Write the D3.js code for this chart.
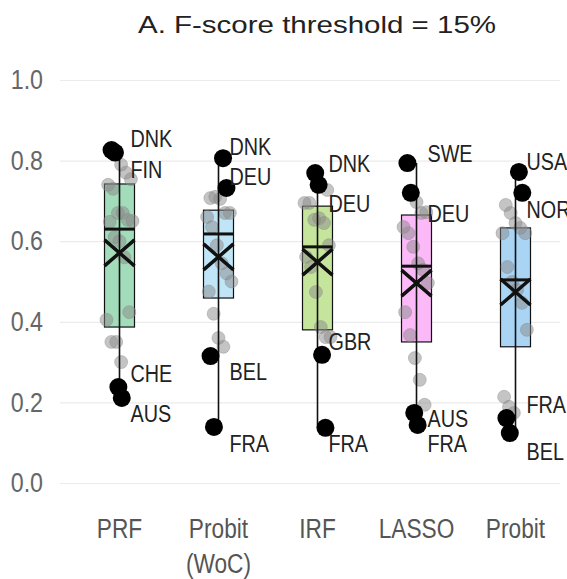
<!DOCTYPE html>
<html>
<head>
<meta charset="utf-8">
<script src="https://cdn.jsdelivr.net/npm/d3@7"></script>
<style>
  body { margin: 0; background: #fff; }
  .narrow { font-family: "Liberation Sans", Arial, sans-serif; }
</style>
</head>
<body>
<div id="chart"></div>
<script>
// box plot of F-scores by method, threshold 15%

const methods = ["PRF", "Probit (WoC)", "IRF", "LASSO", "Probit"];
const boxFills = ["#a2dcba", "#bfe5f6", "#c6e59c", "#fbb9f7", "#a9d4f4"];

// box summary per method
const q1 =      [0.387, 0.459, 0.380, 0.350, 0.338];
const medians = [0.630, 0.618, 0.586, 0.538, 0.504];
const q3 =      [0.742, 0.677, 0.687, 0.665, 0.633];
const means =   [0.571, 0.561, 0.548, 0.496, 0.474];

// labelled (extreme) countries per method
const labelCodes = [
  ["DNK", "FIN", "CHE", "AUS"],
  ["DNK", "DEU", "BEL", "FRA"],
  ["DNK", "DEU", "GBR", "FRA"],
  ["SWE", "DEU", "AUS", "FRA"],
  ["USA", "NOR", "FRA", "BEL"]
];
const labelScores = [
  [0.826, 0.820, 0.238, 0.211],
  [0.806, 0.732, 0.315, 0.139],
  [0.769, 0.740, 0.318, 0.137],
  [0.794, 0.720, 0.174, 0.144],
  [0.772, 0.720, 0.161, 0.124]
];

// the other countries (grey dots)
const otherScores = [
  [0.790, 0.770, 0.754, 0.740, 0.730, 0.670, 0.670, 0.653, 0.650, 0.648, 0.610, 0.600, 0.560, 0.424, 0.405, 0.350, 0.350, 0.300],
  [0.707, 0.710, 0.705, 0.670, 0.670, 0.660, 0.635, 0.590, 0.545, 0.520, 0.500, 0.475, 0.420, 0.360, 0.338],
  [0.727, 0.695, 0.695, 0.653, 0.657, 0.645, 0.590, 0.561, 0.536, 0.474, 0.387, 0.362, 0.362],
  [0.697, 0.670, 0.672, 0.635, 0.620, 0.586, 0.545, 0.529, 0.496, 0.424, 0.367, 0.310, 0.256, 0.194],
  [0.690, 0.670, 0.645, 0.633, 0.620, 0.620, 0.536, 0.499, 0.479, 0.447, 0.380, 0.214, 0.189, 0.174]
];

const yTicks = [0, 0.2, 0.4, 0.6, 0.8, 1.0];

const svgWidth = 567, svgHeight = 579;

const svg = d3.select("#chart").append("svg")
    .attr("width", svgWidth)
    .attr("height", svgHeight);

const x = d3.scaleBand().domain(methods).range([70, 565]);
const cx = m => x(m) + x.bandwidth() / 2;
const y = d3.scaleLinear().domain([0, 1]).range([483, 80]);
const boxW = 30;

// small deterministic horizontal jitter
const jit = (i, k) => ((((i + 3) * 37 + k * 11) % 17) / 16 - 0.5) * 26;

// squeeze text horizontally (no narrow font available)
function condense(sel, f) {
  sel.each(function() {
    const w = this.getComputedTextLength();
    d3.select(this).attr("textLength", w * f).attr("lengthAdjust", "spacingAndGlyphs");
  });
}

// title
svg.append("text")
    .attr("x", 317).attr("y", 33)
    .attr("text-anchor", "middle")
    .attr("textLength", 358)
    .attr("lengthAdjust", "spacingAndGlyphs")
    .style("font-family", "Liberation Sans, Arial, sans-serif")
    .style("font-size", "24px")
    .style("fill", "#222")
    .text("A. F-score threshold = 15%");

// y axis + grid
const yAxis = svg.append("g")
    .attr("transform", "translate(60,0)")
    .call(d3.axisLeft(y).tickValues(yTicks).tickFormat(d3.format(".1f"))
        .tickSize(-500).tickPadding(17));
yAxis.select(".domain").remove();
yAxis.selectAll("line").attr("stroke", "#ebebeb").attr("stroke-width", 1.2);
yAxis.selectAll("text")
    .attr("class", "narrow")
    .style("font-size", "27px")
    .style("fill", "#666")
    .call(condense, 0.86);

// x labels
const xAxis = svg.append("g")
    .attr("transform", "translate(0,538)")
    .call(d3.axisBottom(x).tickSize(0).tickFormat(""));
xAxis.select(".domain").remove();
xAxis.selectAll(".tick").append("text")
    .attr("class", "narrow")
    .attr("text-anchor", "middle")
    .style("font-size", "27px")
    .style("fill", "#555")
    .each(function(d) {
      const parts = d.split(" ");
      d3.select(this).selectAll("tspan").data(parts).enter().append("tspan")
        .attr("x", 0)
        .attr("y", (p, i) => i * 35)
        .text(p => p);
    });
condense(xAxis.selectAll("tspan"), 0.84);

const plot = svg.append("g");

methods.forEach((m, k) => {
  const c = cx(m);
  const lo = d3.min(labelScores[k]), hi = d3.max(labelScores[k]);
  const g = plot.append("g");

  // box
  g.append("rect")
      .attr("x", c - boxW / 2).attr("width", boxW)
      .attr("y", y(q3[k])).attr("height", y(q1[k]) - y(q3[k]))
      .attr("fill", boxFills[k])
      .attr("stroke", "#111").attr("stroke-width", 1.2);

  // grey country dots
  g.selectAll("circle.other")
    .data(otherScores[k])
    .enter().append("circle")
      .attr("class", "other")
      .attr("cx", (d, i) => c + jit(i, k))
      .attr("cy", d => y(d))
      .attr("r", 6.5)
      .attr("fill", "#8a8a8a").attr("fill-opacity", 0.5)
      .attr("stroke", "#8a8a8a").attr("stroke-opacity", 0.4);

  // whisker (full range)
  g.append("line")
      .attr("x1", c).attr("x2", c)
      .attr("y1", y(hi)).attr("y2", y(lo))
      .attr("stroke", "#111").attr("stroke-width", 1.6);

  // median
  g.append("line")
      .attr("x1", c - boxW / 2).attr("x2", c + boxW / 2)
      .attr("y1", y(medians[k])).attr("y2", y(medians[k]))
      .attr("stroke", "#111").attr("stroke-width", 3);

  // mean marker
  const my = y(means[k]);
  g.append("path")
      .attr("d", `M${c - 15},${my - 13}L${c + 15},${my + 13}M${c - 15},${my + 13}L${c + 15},${my - 13}`)
      .attr("stroke", "#111").attr("stroke-width", 3.5).attr("fill", "none");

  // labelled extremes
  const pts = labelCodes[k].map((code, i) => ({code, v: labelScores[k][i], i}));
  g.selectAll("circle.ext")
    .data(pts)
    .enter().append("circle")
      .attr("class", "ext")
      .attr("cx", d => c + jit(d.i + 20, k) * 0.7)
      .attr("cy", d => y(d.v))
      .attr("r", 9)
      .attr("fill", "#000");
});

// label nudges (repel-style placement)
const labelDy = {
  "PRF": [-3, 25, -5, 24],
  "Probit (WoC)": [-3, -3, 24, 25],
  "IRF": [-1, 27, -5, 24],
  "LASSO": [-1, 29, 14, 27],
  "Probit": [-2, 25, -5, 27]
};

methods.forEach((m, k) => {
  const c = cx(m);
  plot.append("g").selectAll("text")
    .data(labelCodes[k])
    .enter().append("text")
      .attr("class", "narrow")
      .attr("x", c + 11)
      .attr("y", (d, i) => y(labelScores[k][i]) + labelDy[m][i])
      .style("font-size", "23px")
      .style("fill", "#222")
      .text(d => d)
      .call(condense, 0.86);
});
</script>
</body>
</html>
